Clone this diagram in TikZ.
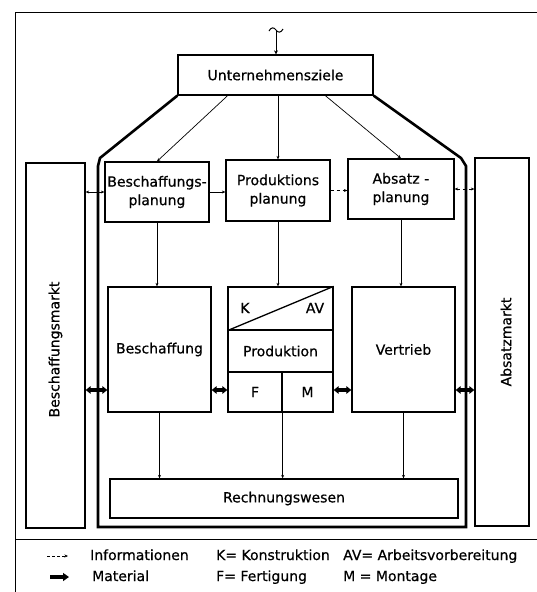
\documentclass[tikz,border=0pt]{standalone}
\usepackage{fontspec}
\setmainfont{DejaVu Sans}[FakeBold=0.6]
\usetikzlibrary{arrows.meta,calc}
\begin{document}
\begin{tikzpicture}[x=1pt,y=-1pt,
  font=\fontsize{14}{18.5}\selectfont,
  box/.style={draw, line width=1.3pt, inner sep=0pt, align=center},
  lbl/.style={inner sep=0pt},
  info/.style={line width=0.7pt, -{Stealth[length=3.5pt,width=3pt]}},
  infoboth/.style={line width=0.7pt, {Stealth[length=3.5pt,width=3pt]}-{Stealth[length=3.5pt,width=3pt]}},
  mat/.style={line width=3.6pt, {Triangle[length=5pt,width=7.5pt]}-{Triangle[length=5pt,width=7.5pt]}},
  rim/.style={line width=2.6pt, line join=miter},
  frame/.style={line width=1pt},
]
\useasboundingbox (0,0) rectangle (537,592);

% outer frame and legend separator
\draw[frame] (15,592) -- (15,12) -- (537,12);
\draw[frame] (15,539) -- (537,539);

% top level
\node[box, minimum width=195pt, minimum height=40pt] (uz) at (275.5,75) {Unternehmensziele};

% markets
\node[box, minimum width=59pt, minimum height=365pt] (bm) at (55.5,345.5) {};
\node[lbl, rotate=90] (bmt) at ($(bm.center)+(0,4)$) {Beschaffungsmarkt};
\node[box, minimum width=54pt, minimum height=368pt] (am) at (502,342) {};
\node[lbl, rotate=90] (amt) at ($(am.center)+(4,0)$) {Absatzmarkt};

% planning row
\node[box, minimum width=104pt, minimum height=60pt] (bp) at (157,192) {Beschaffungs-\\planung};
\node[box, minimum width=104pt, minimum height=61pt] (pp) at (278,190.5) {Produktions\\planung};
\node[box, minimum width=106pt, minimum height=60pt, align=left] (ap) at (401,189) {Absatz -\\planung};

% operations row
\node[box, minimum width=103pt, minimum height=125pt] (be) at (159.5,349.5) {Beschaffung};
\node[box, minimum width=105pt, minimum height=43pt] (kav) at (280.5,308.5) {};
\node[box, minimum width=105pt, minimum height=42pt] (prod) at (280.5,351) {Produktion};
\node[box, minimum width=54pt, minimum height=40pt] (fert) at (255,392) {F};
\node[box, minimum width=51pt, minimum height=40pt] (mont) at (307.5,392) {M};
\draw[line width=1.3pt] (kav.south west) -- (kav.north east);
\node[lbl] (k) at (245,308) {K};
\node[lbl] (av) at (315,308) {AV};
\node[box, minimum width=103pt, minimum height=125pt] (ve) at (403.5,349.5) {Vertrieb};

% accounting
\node[box, minimum width=348pt, minimum height=39pt] (rw) at (284,498.5) {Rechnungswesen};

% company boundary
\draw[rim] (uz.south west) -- (100,158) -- (98,166) -- (98,527) -- (466,527)
  -- (466,166) -- (461,158) -- (uz.south east);

% external input
\coordinate (src) at (276,31);
\draw[frame] (269,31) .. controls (271,27) and (274,27) .. (276,30)
  .. controls (278,33) and (281,33) .. (283,29);
\draw[frame, -{Stealth[length=4pt,width=4pt]}] (src) -- (uz.north -| src);

% information flows
\draw[info] ($(uz.south west)!0.256!(uz.south east)$) -- (bp.north);
\draw[info] (uz.south -| pp.north) -- (pp.north);
\draw[info] ($(uz.south west)!0.754!(uz.south east)$) -- (ap.north);
\draw[infoboth] (bp.west) -- (bm.east |- bp.west);
\draw[info] (bp.east) -- (pp.west |- bp.east);
\draw[info, dashed] (pp.east) -- (ap.west |- pp.east);
\draw[infoboth, dashed] (ap.east) -- (am.west |- ap.east);
\draw[info] (bp.south) -- (bp.south |- be.north);
\draw[info] (pp.south) -- (pp.south |- kav.north);
\draw[info] (ap.south) -- (ap.south |- ve.north);
\draw[info] (be.south) -- (be.south |- rw.north);
\draw[info] (fert.south east) -- (fert.south east |- rw.north);
\draw[info] (ve.south) -- (ve.south |- rw.north);

% material flows
\coordinate (mat) at (0,390);
\draw[mat] (bm.east |- mat) -- (be.west |- mat);
\draw[mat] (be.east |- mat) -- (fert.west |- mat);
\draw[mat] (mont.east |- mat) -- (ve.west |- mat);
\draw[mat] (ve.east |- mat) -- (am.west |- mat);

% legend
\coordinate (li0) at (47,556);
\coordinate (li1) at (68,556);
\draw[info, dashed, dash pattern=on 3pt off 2pt] (li0) -- (li1);
\coordinate (lm0) at (50,577);
\coordinate (lm1) at (69,577);
\draw[line width=4pt, -{Triangle[length=6pt,width=8pt]}] (lm0) -- (lm1);
\node[lbl, anchor=base west] (tinfo) at (90,560) {Informationen};
\node[lbl, anchor=base west] (tmat) at (92,581) {Material};
\node[lbl, anchor=base west] (tk) at (216,560) {K= Konstruktion};
\node[lbl, anchor=base west] (tf) at (216,581) {F= Fertigung};
\node[lbl, anchor=base west] (tav) at (343,560) {AV= Arbeitsvorbereitung};
\node[lbl, anchor=base west] (tm) at (343,581) {M = Montage};
\end{tikzpicture}
\end{document}
